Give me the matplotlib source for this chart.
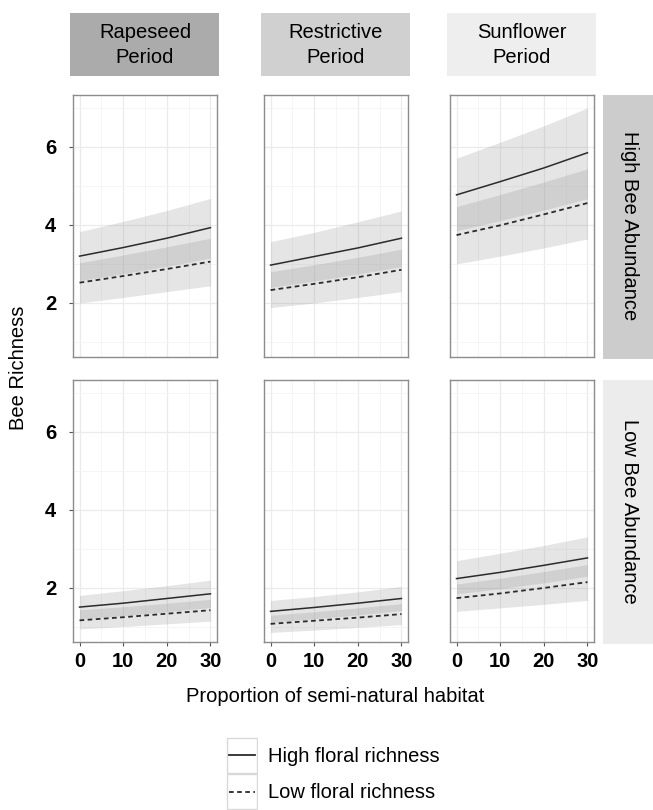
import matplotlib.pyplot as plt
from matplotlib.patches import Rectangle
import numpy as np

plt.rcParams['font.family'] = ['Liberation Sans', 'DejaVu Sans']

# proportion of semi-natural habitat
x = [0, 10, 20, 30]

periods = ['Rapeseed\nPeriod', 'Restrictive\nPeriod', 'Sunflower\nPeriod']
abundance = ['High Bee Abundance', 'Low Bee Abundance']
floral = ['High floral richness', 'Low floral richness']

# High bee abundance row, one list per period (Rapeseed, Restrictive, Sunflower)
habu_hf_fit = [[3.20, 3.42, 3.66, 3.93], [2.97, 3.19, 3.41, 3.66], [4.77, 5.11, 5.46, 5.85]]
habu_hf_lo = [[2.57, 2.75, 2.94, 3.15], [2.40, 2.56, 2.74, 2.93], [3.85, 4.11, 4.38, 4.67]]
habu_hf_hi = [[3.83, 4.09, 4.37, 4.68], [3.57, 3.81, 4.08, 4.36], [5.71, 6.12, 6.54, 7.00]]
habu_lf_fit = [[2.52, 2.69, 2.87, 3.06], [2.33, 2.49, 2.66, 2.85], [3.74, 3.99, 4.27, 4.56]]
habu_lf_lo = [[2.00, 2.14, 2.29, 2.44], [1.88, 2.00, 2.14, 2.29], [3.00, 3.20, 3.41, 3.64]]
habu_lf_hi = [[3.03, 3.23, 3.44, 3.66], [2.80, 2.98, 3.17, 3.38], [4.47, 4.78, 5.10, 5.44]]

# Low bee abundance row
labu_hf_fit = [[1.51, 1.61, 1.73, 1.85], [1.40, 1.50, 1.61, 1.73], [2.24, 2.40, 2.58, 2.77]]
labu_hf_lo = [[1.21, 1.29, 1.39, 1.50], [1.12, 1.21, 1.31, 1.42], [1.85, 1.98, 2.13, 2.30]]
labu_hf_hi = [[1.81, 1.93, 2.06, 2.20], [1.68, 1.78, 1.90, 2.04], [2.70, 2.89, 3.09, 3.31]]
labu_lf_fit = [[1.17, 1.25, 1.34, 1.43], [1.08, 1.16, 1.24, 1.33], [1.74, 1.86, 2.00, 2.15]]
labu_lf_lo = [[0.95, 1.01, 1.08, 1.15], [0.86, 0.92, 0.99, 1.06], [1.40, 1.49, 1.58, 1.68]]
labu_lf_hi = [[1.44, 1.52, 1.61, 1.71], [1.30, 1.39, 1.49, 1.60], [2.10, 2.25, 2.42, 2.60]]

rows = [
    (habu_hf_fit, habu_hf_lo, habu_hf_hi, habu_lf_fit, habu_lf_lo, habu_lf_hi),
    (labu_hf_fit, labu_hf_lo, labu_hf_hi, labu_lf_fit, labu_lf_lo, labu_lf_hi),
]

strip_top_cols = ['#ababab', '#d0d0d0', '#eeeeee']
strip_right_cols = ['#cccccc', '#ececec']

W, H = 653, 810
fig = plt.figure(figsize=(W / 100, H / 100), dpi=100)

col_left = [73, 264, 450]
panel_w = 144
row_top = [95, 380]
panel_h = 262


def fig_rect(left, top, w, h):
    return [left / W, 1 - (top + h) / H, w / W, h / H]


for r in range(2):
    hf_fit, hf_lo, hf_hi, lf_fit, lf_lo, lf_hi = rows[r]
    for c in range(3):
        ax = fig.add_axes(fig_rect(col_left[c], row_top[r], panel_w, panel_h))
        ax.fill_between(x, hf_lo[c], hf_hi[c], color='#808080', alpha=0.2, lw=0)
        ax.fill_between(x, lf_lo[c], lf_hi[c], color='#808080', alpha=0.2, lw=0)
        ax.plot(x, hf_fit[c], color='#2b2b2b', lw=1.1)
        ax.plot(x, lf_fit[c], color='#2b2b2b', lw=1.3, ls=(0, (2.6, 1.9)))
        ax.set_xlim(-1.5, 31.5)
        ax.set_ylim(0.615, 7.33)
        ax.set_xticks([0, 10, 20, 30])
        ax.set_xticks([5, 15, 25], minor=True)
        ax.set_yticks([2, 4, 6])
        ax.set_yticks([1, 3, 5, 7], minor=True)
        ax.grid(True, which='major', color='#ebebeb', lw=0.9)
        ax.grid(True, which='minor', color='#f4f4f4', lw=0.6)
        ax.set_axisbelow(True)
        for s in ax.spines.values():
            s.set_color('#8c8c8c')
            s.set_linewidth(1.0)
        ax.tick_params(which='major', length=3, width=0.8, color='#555555',
                       labelsize=14.5, pad=4)
        ax.tick_params(axis='y', pad=9)
        ax.tick_params(which='minor', length=0)
        for lab in ax.get_xticklabels() + ax.get_yticklabels():
            lab.set_fontweight('bold')
        if r == 0:
            ax.set_xticklabels([])
            ax.tick_params(axis='x', length=0)
        if c > 0:
            ax.set_yticklabels([])
            ax.tick_params(axis='y', length=0)

# top strips
for c in range(3):
    rect = Rectangle(((col_left[c] - 3) / W, 1 - 76 / H), (panel_w + 5) / W, 63 / H,
                     transform=fig.transFigure, color=strip_top_cols[c], lw=0)
    fig.patches.append(rect)
    fig.text((col_left[c] + panel_w / 2) / W, 1 - 45 / H, periods[c],
             ha='center', va='center', fontsize=14.5, linespacing=1.38)

# right strips
for r in range(2):
    rect = Rectangle((603 / W, 1 - (row_top[r] + panel_h + 2) / H), 60 / W, (panel_h + 2) / H,
                     transform=fig.transFigure, color=strip_right_cols[r], lw=0)
    fig.patches.append(rect)
    fig.text(630 / W, 1 - (row_top[r] + panel_h / 2) / H, abundance[r],
             ha='center', va='center', rotation=-90, fontsize=14.5)

fig.text(19 / W, 1 - 368 / H, 'Bee Richness', rotation=90, ha='center', va='center',
         fontsize=14.5)
fig.text(335 / W, 1 - 696 / H, 'Proportion of semi-natural habitat', ha='center',
         va='center', fontsize=14.5)

# legend with keyed boxes
leg = fig.add_axes(fig_rect(226, 737, 32, 73))
leg.set_xlim(0, 1)
leg.set_ylim(0, 2)
leg.axis('off')
for i, ls in enumerate(['-', (0, (2.6, 1.9))]):
    y0 = 1 - i
    leg.add_patch(Rectangle((0.02, y0 + 0.02), 0.96, 0.96, fill=False, ec='#d9d9d9', lw=1))
    leg.plot([0.1, 0.9], [y0 + 0.5, y0 + 0.5], color='#2b2b2b', lw=1.3, ls=ls)
    fig.text(268 / W, 1 - (757 + 36 * i) / H, floral[i], ha='left', va='center',
             fontsize=14.5)

fig.savefig('out.png', dpi=100)
